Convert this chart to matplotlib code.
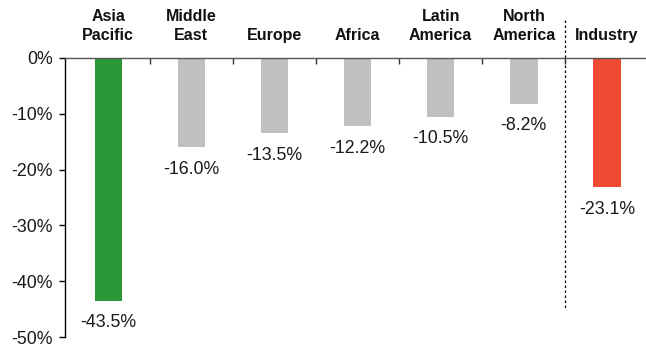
import matplotlib
matplotlib.use("Agg")
import matplotlib.pyplot as plt

# Regional change vs. industry total
categories = ["Asia\nPacific", "Middle\nEast", "Europe", "Africa", "Latin\nAmerica", "North\nAmerica", "Industry"]
values = [-43.5, -16.0, -13.5, -12.2, -10.5, -8.2, -23.1]
colors = ["#2a9635", "#c0c0c0", "#c0c0c0", "#c0c0c0", "#c0c0c0", "#c0c0c0", "#f04a33"]
y_ticks = [0, -10, -20, -30, -40, -50]
y_tick_labels = ["0%", "-10%", "-20%", "-30%", "-40%", "-50%"]

plt.rcParams["font.family"] = ["Liberation Sans", "DejaVu Sans"]

fig = plt.figure(figsize=(6.46, 3.47), dpi=100)
W, H = 646, 347
ax = fig.add_axes([65 / W, 1 - 337 / H, (646 - 65) / W, (337 - 58) / H])

x = list(range(len(categories)))
ax.bar(x, values, width=0.33, color=colors, zorder=2)

ax.set_xlim(-0.52, 6.47)
ax.set_ylim(-50, 0)

# Axes styling
for s in ["top", "right"]:
    ax.spines[s].set_visible(False)
ax.spines["bottom"].set_position(("data", 0))
ax.spines["bottom"].set_color("#555555")
ax.spines["bottom"].set_linewidth(1.0)
ax.spines["bottom"].set_zorder(3)
ax.spines["left"].set_color("black")
ax.spines["left"].set_linewidth(1.0)

ax.set_yticks(y_ticks)
ax.set_yticklabels(y_tick_labels, fontsize=12.8, color="#1a1a1a")
ax.tick_params(axis="y", direction="out", length=4, width=1, pad=5)

ax.set_xticks([i + 0.5 for i in range(len(categories) - 1)])
ax.set_xticklabels([])
ax.tick_params(axis="x", direction="out", length=4, width=1, color="#333333")

# Category labels above the chart
for xi, name in zip(x, categories):
    ax.annotate(name, xy=(xi, 0), xytext=(0, 11), textcoords="offset points",
                ha="center", va="bottom", fontsize=11.5, fontweight="bold",
                color="#111111", linespacing=1.35, annotation_clip=False)

# Value labels below each bar
for xi, v in zip(x, values):
    ax.annotate(f"{v:.1f}%", xy=(xi, v), xytext=(0, -16), textcoords="offset points",
                ha="center", va="center", fontsize=12.8, color="#1a1a1a",
                annotation_clip=False)

# Separator between regions and industry total
ax.plot([5.5, 5.5], [6.8, -45.2], color="black", linestyle=(0, (2, 2)),
        linewidth=0.9, clip_on=False, zorder=1)

fig.savefig("out.png", dpi=100)
